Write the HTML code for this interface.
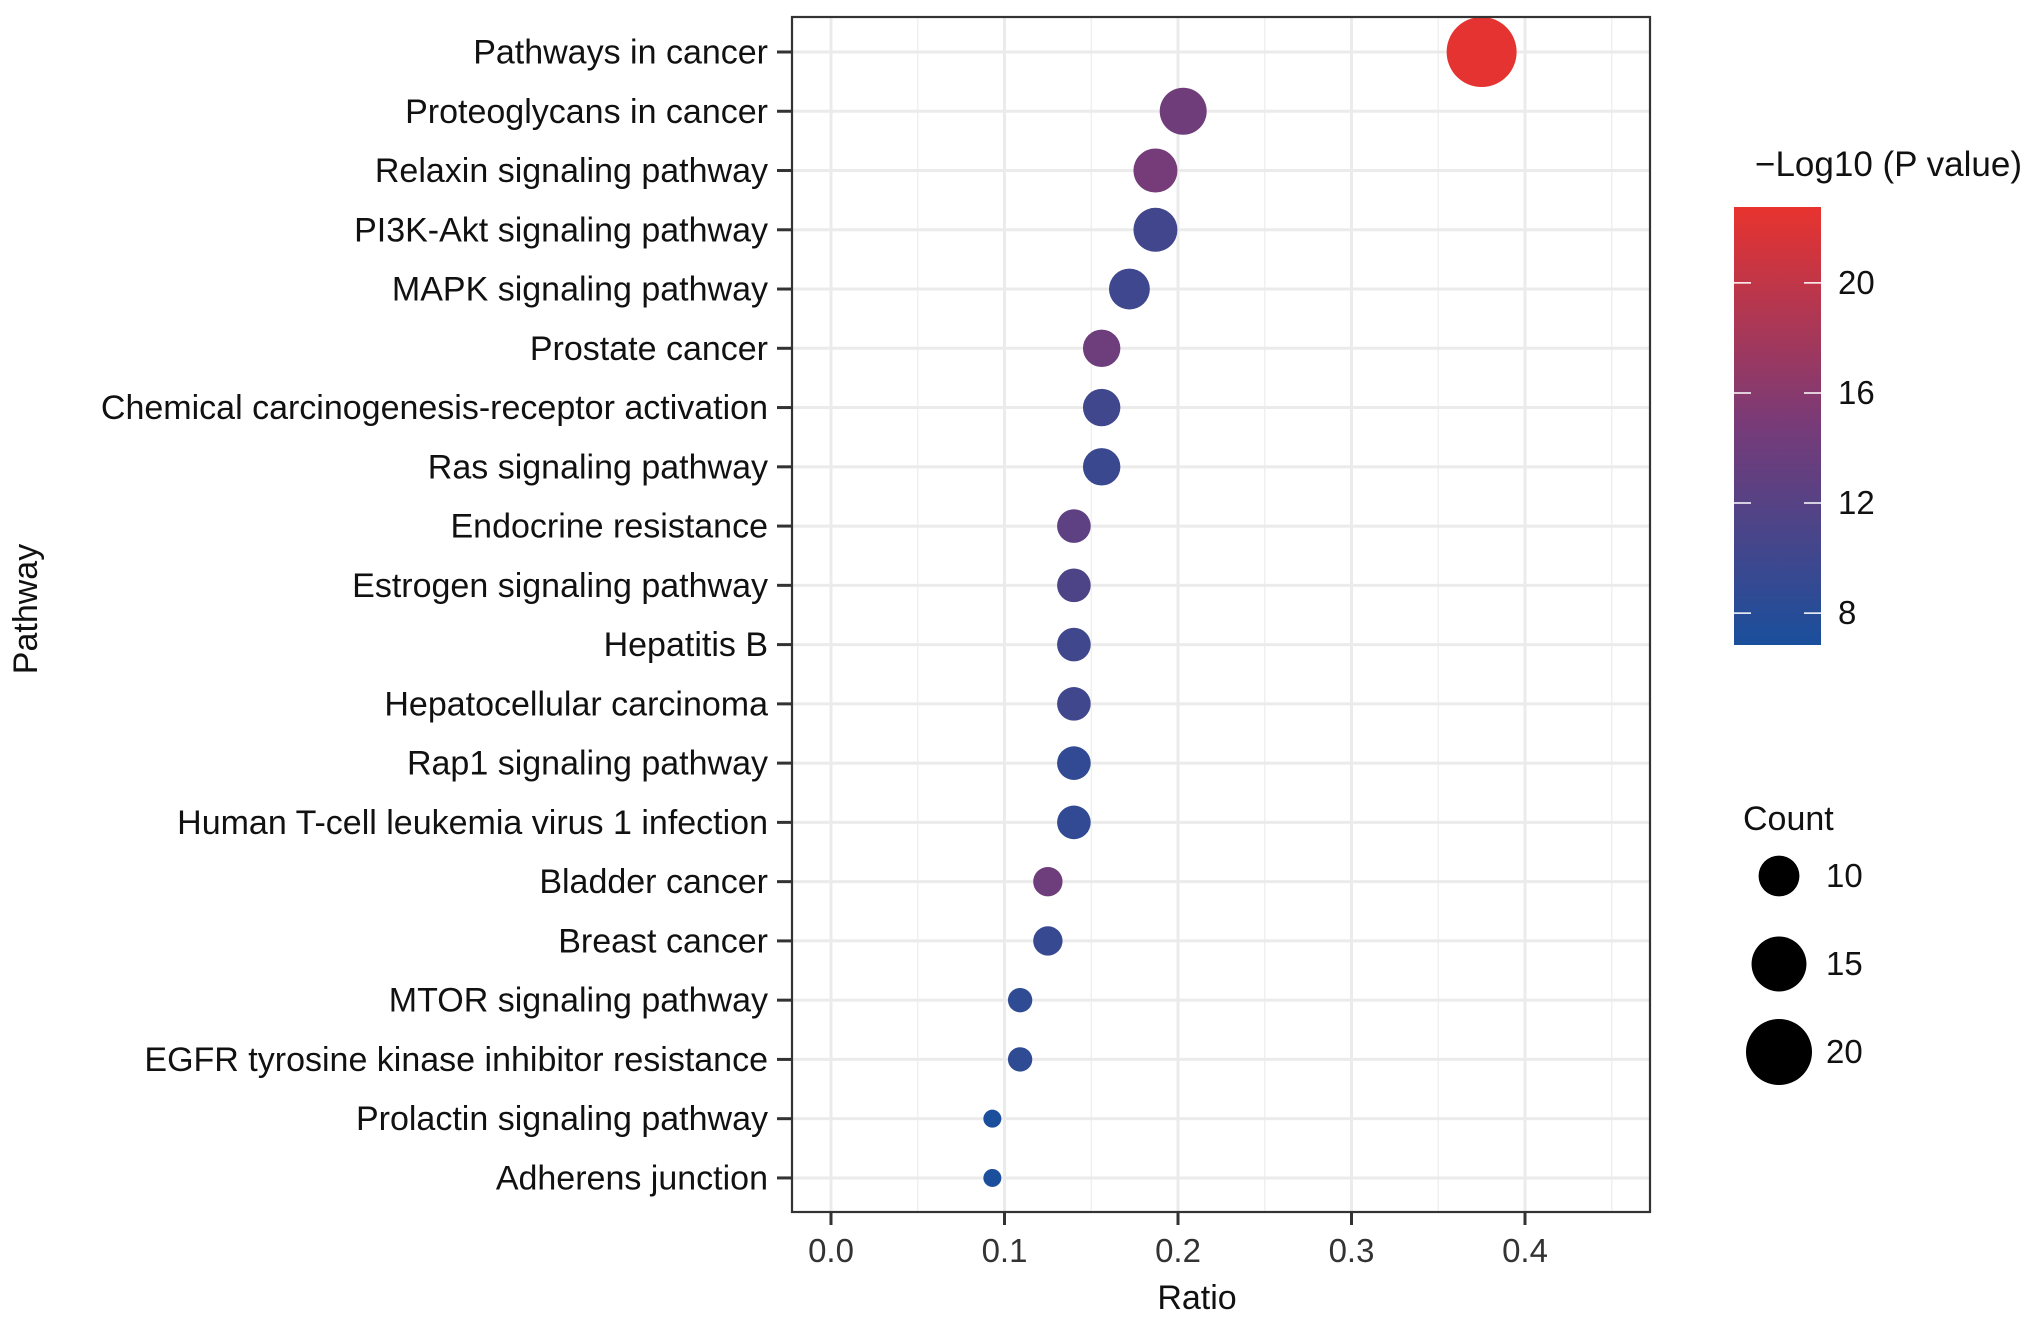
<!DOCTYPE html>
<html><head><meta charset="utf-8"><style>
html,body{margin:0;padding:0;background:#fff;}
svg{display:block;font-family:"Liberation Sans",sans-serif;}
</style></head><body>
<svg id="chart" width="2032" height="1321" viewBox="0 0 2032 1321" xmlns="http://www.w3.org/2000/svg">
<defs>
<linearGradient id="cgrad" x1="0" y1="1" x2="0" y2="0">
<stop offset="0" stop-color="#1a4f9c"/>
<stop offset="0.5" stop-color="#773b78"/>
<stop offset="1" stop-color="#e8332e"/>
</linearGradient>
</defs>
<g id="grid"></g>
<g id="dots"></g>
<g id="axes"></g>
<text x="1197" y="1309" font-size="34" text-anchor="middle" fill="#111">Ratio</text>
<text x="0" y="0" font-size="34" text-anchor="middle" fill="#111" transform="translate(37,609) rotate(-90)">Pathway</text>
<g>
<text x="1755" y="176" font-size="35" fill="#111" textLength="267" lengthAdjust="spacingAndGlyphs">−Log10 (P value)</text>
<rect x="1734" y="207" width="87" height="438" fill="url(#cgrad)"/>
<g id="cticks"></g>
</g>
<g>
<text x="1743" y="830" font-size="34" fill="#111">Count</text>
<g id="sizeleg"></g>
</g>
</svg>
<script>
const categories = ["Pathways in cancer","Proteoglycans in cancer","Relaxin signaling pathway","PI3K-Akt signaling pathway","MAPK signaling pathway","Prostate cancer","Chemical carcinogenesis-receptor activation","Ras signaling pathway","Endocrine resistance","Estrogen signaling pathway","Hepatitis B","Hepatocellular carcinoma","Rap1 signaling pathway","Human T-cell leukemia virus 1 infection","Bladder cancer","Breast cancer","MTOR signaling pathway","EGFR tyrosine kinase inhibitor resistance","Prolactin signaling pathway","Adherens junction"];
const ratios = [0.375,0.203,0.187,0.187,0.172,0.156,0.156,0.156,0.140,0.140,0.140,0.140,0.140,0.140,0.125,0.125,0.109,0.109,0.093,0.093];
const counts = [22,12,11,11,10,9,9,9,8,8,8,8,8,8,7,7,6,6,5,5];
const logP = [22.5,14.2,14.6,10.3,10.0,14.0,10.2,9.6,12.6,11.2,10.2,10.2,8.8,8.8,14.0,9.2,8.6,8.6,7.0,7.0];
const xTicks = [0.0,0.1,0.2,0.3,0.4];
const xTickLabels = ["0.0","0.1","0.2","0.3","0.4"];
const cTicks = [8,12,16,20];
const sizeLegend = [10,15,20];

const NS="http://www.w3.org/2000/svg";
const L=792,R=1650,T=17,B=1212;
const x = v => 831 + v*1735;
const y = i => 52 + i*59.26;
const cMin=6.84,cMax=22.76;
const cy = v => 645 - (v-cMin)/(cMax-cMin)*438;
const rMin=9,rMax=35,nMin=5,nMax=22;
const rad = c => Math.sqrt(rMin*rMin + (c-nMin)/(nMax-nMin)*(rMax*rMax-rMin*rMin));
function lerp(a,b,t){return Math.round(a+(b-a)*t);}
function col(v){
  const t=Math.max(0,Math.min(1,(v-cMin)/(cMax-cMin)));
  const lo=[26,79,156],mid=[119,59,120],hi=[232,51,46];
  let a,b,u; if(t<0.5){a=lo;b=mid;u=t*2;}else{a=mid;b=hi;u=(t-0.5)*2;}
  return `rgb(${lerp(a[0],b[0],u)},${lerp(a[1],b[1],u)},${lerp(a[2],b[2],u)})`;
}
function mk(tag,attrs,parent,text){const e=document.createElementNS(NS,tag);for(const k in attrs)e.setAttribute(k,attrs[k]);if(text!==undefined)e.textContent=text;parent.appendChild(e);return e;}

const grid=document.getElementById('grid');
const bg=mk('rect',{x:L,y:T,width:R-L,height:B-T,fill:'#fff'},grid);


for(let i=0;i<xTicks.length;i++){
  const m=xTicks[i]+0.05;
  if(x(m)<R){const ln=mk('line',{x1:x(m),x2:x(m),y1:T,y2:B,stroke:'#f0f0f0','stroke-width':1.5},grid);
  
  }
}
xTicks.forEach(v=>{
  const ln=mk('line',{x1:x(v),x2:x(v),y1:T,y2:B,stroke:'#ebebeb','stroke-width':3},grid);
  
  
});
categories.forEach((c,i)=>{
  const ln=mk('line',{x1:L,x2:R,y1:y(i),y2:y(i),stroke:'#ebebeb','stroke-width':3},grid);
  
  
});

const dots=document.getElementById('dots');
categories.forEach((c,i)=>{
  const d=mk('circle',{cx:x(ratios[i]),cy:y(i),r:rad(counts[i]),fill:col(logP[i])},dots);
  
  
});

const axes=document.getElementById('axes');
const border=mk('rect',{x:L,y:T,width:R-L,height:B-T,fill:'none',stroke:'#333','stroke-width':2.2},axes);


categories.forEach((c,i)=>{
  mk('line',{x1:777,x2:L,y1:y(i),y2:y(i),stroke:'#333','stroke-width':3},axes);
  const t=mk('text',{x:768,y:y(i)+11.5,'font-size':34,'text-anchor':'end',fill:'#111'},axes,c);
  
  
  const w=t.getComputedTextLength();
  const maxW=768-79;
  if(w>maxW){t.setAttribute('textLength',maxW);t.setAttribute('lengthAdjust','spacingAndGlyphs');}
});
xTicks.forEach((v,i)=>{
  mk('line',{x1:x(v),x2:x(v),y1:B,y2:B+13,stroke:'#333','stroke-width':3},axes);
  const t=mk('text',{x:x(v),y:1262,'font-size':33,'text-anchor':'middle',fill:'#333'},axes,xTickLabels[i]);
  
  
});

const ct=document.getElementById('cticks');
cTicks.forEach(v=>{
  mk('line',{x1:1734,x2:1751,y1:cy(v),y2:cy(v),stroke:'#fff','stroke-width':1.5},ct);
  mk('line',{x1:1804,x2:1821,y1:cy(v),y2:cy(v),stroke:'#fff','stroke-width':1.5},ct);
  const t=mk('text',{x:1838,y:cy(v)+11,'font-size':33,fill:'#111'},ct,String(v));
  
  
});

const sl=document.getElementById('sizeleg');
sizeLegend.forEach((v,i)=>{
  const yy=876+i*88;
  const c=mk('circle',{cx:1779,cy:yy,r:rad(v),fill:'#000'},sl);
  
  
  const t=mk('text',{x:1826,y:yy+11,'font-size':33,fill:'#111'},sl,String(v));
  
  
});
</script>
</body></html>
